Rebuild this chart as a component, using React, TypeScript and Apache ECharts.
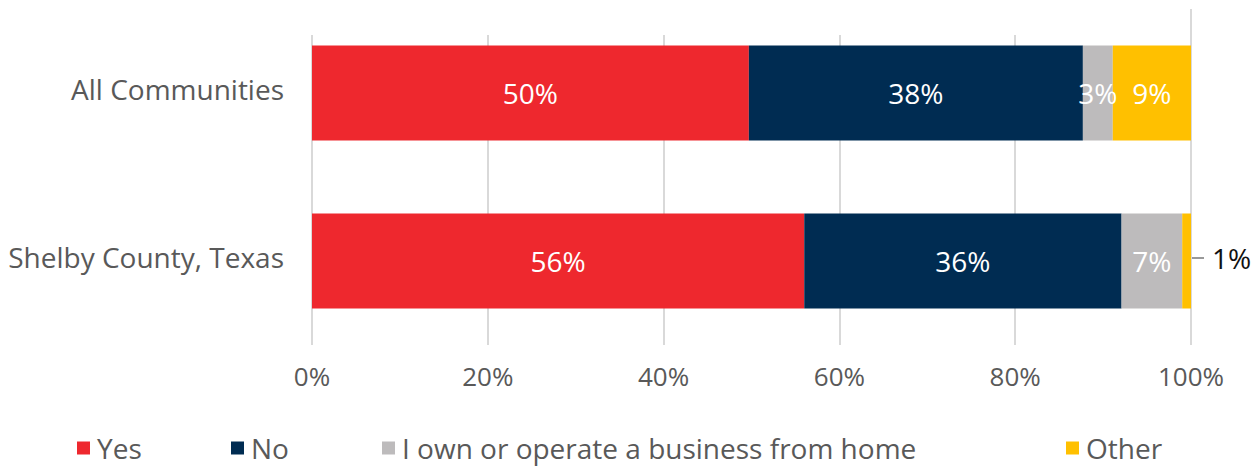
import React, { useEffect, useRef } from "react";
import * as echarts from "echarts";

const categories = ["All Communities", "Shelby County, Texas"];
const seriesNames = ["Yes", "No", "I own or operate a business from home", "Other"];
const yesValues = [49.7, 56.0];
const noValues = [38.0, 36.1];
const homeValues = [3.4, 6.9];
const otherValues = [8.9, 1.0];
const shownLabels = [
  ["50%", "56%"],
  ["38%", "36%"],
  ["3%", "7%"],
  ["9%", "1%"],
];
const xTicks = [0, 20, 40, 60, 80, 100];
const colors = ["#EE282E", "#002C52", "#BDBBBC", "#FFC000"];

const FONT = "Open Sans";

export default function App() {
  const ref = useRef<HTMLDivElement>(null);
  useEffect(() => {
    document.body.style.margin = "0";
    const chart = echarts.init(ref.current!, null, { renderer: "svg" });
    const allValues = [yesValues, noValues, homeValues, otherValues];
    const series = allValues.map((vals, si) => ({
      name: seriesNames[si],
      type: "bar",
      stack: "total",
      barWidth: 95,
      itemStyle: { color: colors[si] },
      label: {
        show: true,
        position: "inside",
        color: "#ffffff",
        fontFamily: FONT,
        fontSize: 28,
        padding: [0, 0, 3, 0],
        formatter: (p: any) => shownLabels[si][p.dataIndex],
      },
      data: vals.map((v, i) => {
        if (si === 3 && i === 1) {
          return {
            value: v,
            label: {
              position: "right",
              distance: 1,
              color: "#111111",
              fontSize: 28,
              padding: [0, 0, 6, 0],
              formatter: (p: any) => "{ln|}{t|" + shownLabels[si][p.dataIndex] + "}",
              rich: {
                ln: { width: 12, height: 2, backgroundColor: "#999999" },
                t: { color: "#111111", fontSize: 28, fontFamily: FONT, padding: [0, 0, 0, 8] },
              },
            },
          };
        }
        return v;
      }),
    }));
    const legends = seriesNames.map((n, i) => ({
      data: [n],
      left: [77, 231, 382, 1066][i],
      top: 434,
      padding: 0,
      itemWidth: 13,
      itemHeight: 13,
      itemGap: 0,
      icon: "rect",
      textStyle: {
        color: "#595959",
        fontFamily: FONT,
        fontSize: 28,
        lineHeight: 24,
        padding: [0, 0, 0, 2],
      },
      selectedMode: false,
    }));
    chart.setOption({
      animation: false,
      grid: { left: 312, right: 60, top: 9, bottom: 123, containLabel: false },
      xAxis: {
        type: "value",
        min: 0,
        max: 100,
        interval: 20,
        axisLine: { show: false },
        axisTick: { show: false },
        splitLine: { show: true, lineStyle: { color: "#D9D9D9", width: 2 } },
        axisLabel: {
          color: "#595959",
          fontFamily: FONT,
          fontSize: 26,
          margin: 18,
          formatter: (v: number) => (xTicks.includes(v) ? v + "%" : ""),
        },
      },
      yAxis: {
        type: "category",
        inverse: true,
        data: categories,
        axisLine: { show: false },
        axisTick: { show: false },
        axisLabel: {
          color: "#595959",
          fontFamily: FONT,
          fontSize: 28,
          margin: 28,
          formatter: (v: string) => "{c|" + v + "}",
          rich: { c: { color: "#595959", fontFamily: FONT, fontSize: 28, padding: [0, 0, 8, 0] } },
        },
      },
      legend: legends,
      series,
      graphic: [
        {
          type: "rect",
          z: 100,
          shape: { x: 0, y: 0, width: 1180, height: 35 },
          style: { fill: "#ffffff" },
        },
      ],
    });
    return () => chart.dispose();
  }, []);
  return <div ref={ref} style={{ width: 1251, height: 468 }} />;
}
